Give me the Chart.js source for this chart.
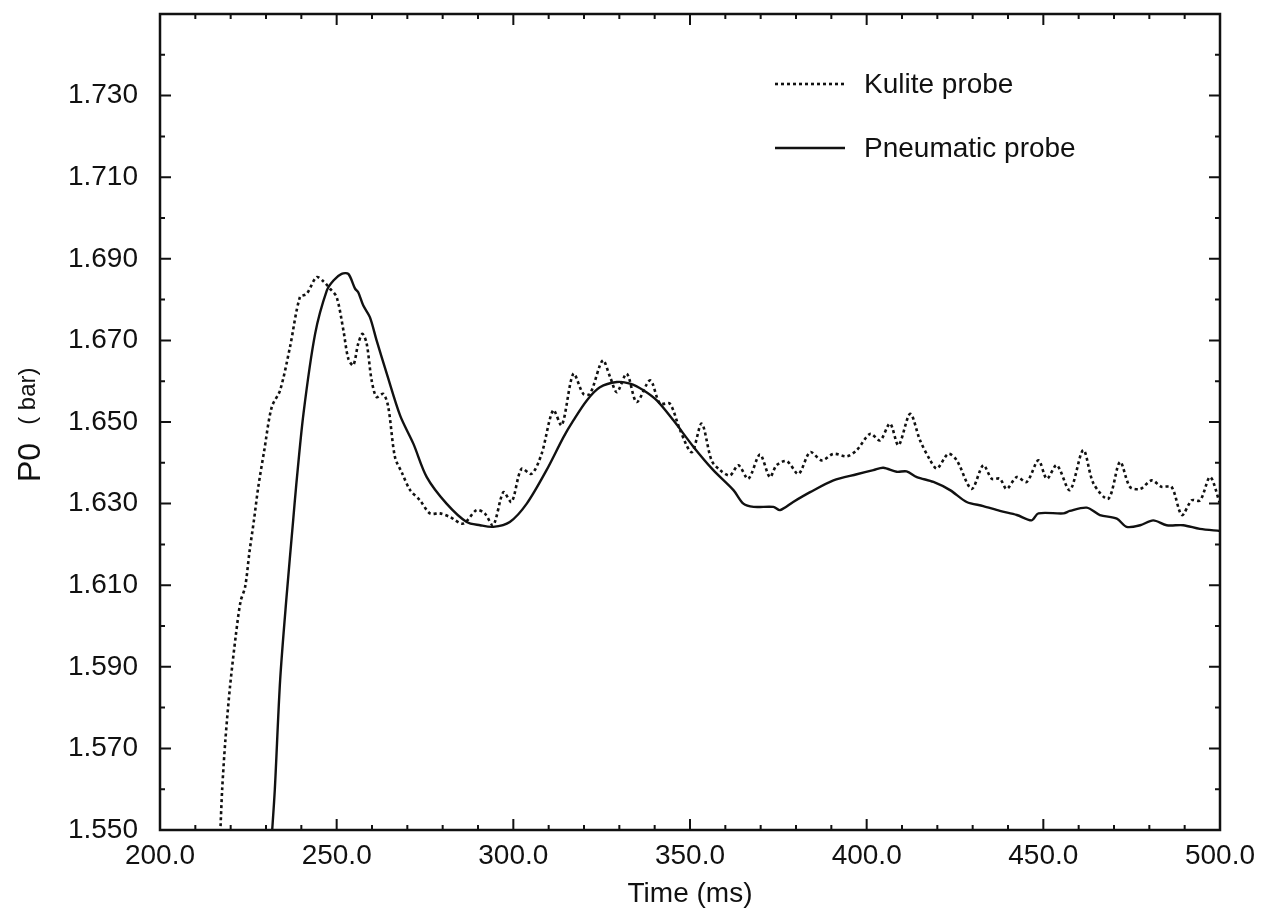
<!DOCTYPE html>
<html>
<head>
<meta charset="utf-8">
<script src="https://cdn.jsdelivr.net/npm/chart.js@4.4.1/dist/chart.umd.min.js"></script>
<style>
  html, body { margin: 0; padding: 0; background: #fff; }
  #wrap { width: 1274px; height: 914px; }
</style>
</head>
<body>
<div id="wrap"><canvas id="grafico" width="1274" height="914"></canvas></div>
<script>
// leitura aproximada da figura
const kuliteTempo = [217.0, 217.6, 218.5, 219.8, 221.5, 222.8, 224.1, 225.3, 226.6, 227.8, 229.5, 231.6, 234.0, 236.8,
  239.6, 241.5, 244.3, 246.2, 248.1, 250.0, 251.9, 253.3, 254.7, 256.1, 257.3, 258.5, 259.9, 261.3, 263.2, 264.6,
  266.5, 268.5, 270.8, 273.6, 276.4, 279.2, 282.1, 285.8, 289.6, 291.9, 294.3, 297.2, 299.5, 302.3, 305.2, 308.0,
  311.3, 313.7, 317.0, 319.8, 321.7, 325.3, 327.4, 329.3, 332.1, 334.9, 338.7, 341.5, 344.3, 347.2, 350.5, 353.3,
  356.1, 358.5, 361.3, 363.7, 366.5, 369.8, 372.6, 374.5, 377.4, 380.7, 384.0, 387.3, 390.6, 394.4, 397.2, 401.0,
  403.8, 406.6, 409.0, 412.3, 415.1, 418.0, 419.9, 423.1, 425.5, 429.7, 433.0, 435.4, 437.7, 439.6, 442.5, 445.3,
  448.6, 451.0, 453.8, 457.5, 461.3, 464.2, 468.4, 471.7, 474.5, 477.4, 480.7, 483.5, 486.3, 489.2, 492.0, 494.4,
  497.2, 500.0];
const kuliteP0 = [1.548, 1.560, 1.572, 1.585, 1.598, 1.606, 1.6096, 1.618, 1.626, 1.634, 1.643, 1.6536, 1.6578, 1.6684,
  1.6806, 1.6814, 1.6855, 1.6845, 1.6827, 1.6806, 1.6725, 1.6655, 1.6639, 1.6692, 1.6716, 1.6692, 1.6602, 1.6561, 1.6569, 1.6537,
  1.6414, 1.6375, 1.6333, 1.6308, 1.6276, 1.6276, 1.6267, 1.6251, 1.6284, 1.6276, 1.6247, 1.6328, 1.6304, 1.6385, 1.6373, 1.6422,
  1.6529, 1.6492, 1.6618, 1.6569, 1.6569, 1.6651, 1.6610, 1.6573, 1.6618, 1.6549, 1.6602, 1.6545, 1.6545, 1.6480, 1.6426, 1.6496,
  1.6406, 1.6382, 1.6369, 1.6394, 1.6361, 1.6420, 1.6365, 1.6394, 1.6404, 1.6373, 1.6426, 1.6406, 1.6422, 1.6416, 1.6431, 1.6471,
  1.6455, 1.6496, 1.6443, 1.6520, 1.6455, 1.6406, 1.6386, 1.6422, 1.6406, 1.6336, 1.6394, 1.6361, 1.6361, 1.6336, 1.6365, 1.6353,
  1.6406, 1.6361, 1.6394, 1.6333, 1.6431, 1.6349, 1.6312, 1.6402, 1.6341, 1.6336, 1.6357, 1.6341, 1.6341, 1.6272, 1.6308, 1.6308,
  1.6365, 1.6300];

const pneumaticoTempo = [231.6, 232.5, 234.0, 235.8, 237.7, 238.5, 240.6, 243.9, 247.2, 249.1, 251.4, 253.3, 255.2, 256.1,
  257.5, 259.4, 261.3, 264.2, 268.0, 271.7, 275.5, 281.1, 286.8, 290.6, 294.3, 299.0, 303.8, 309.4, 314.2, 317.0,
  320.8, 324.5, 329.3, 333.0, 336.8, 340.6, 345.3, 351.0, 356.6, 362.3, 365.1, 368.0, 373.6, 375.5, 379.2, 384.0,
  390.6, 397.2, 401.9, 404.7, 408.5, 411.3, 414.2, 418.9, 423.6, 428.3, 433.0, 437.7, 442.5, 446.7, 448.6, 455.7,
  457.5, 462.3, 466.0, 470.8, 473.6, 477.4, 481.1, 484.9, 489.6, 494.3, 500.0];
const pneumaticoP0 = [1.548, 1.560, 1.5867, 1.607, 1.626, 1.634, 1.652, 1.6716, 1.6822, 1.6847, 1.6863, 1.6863, 1.6827, 1.6818,
  1.6786, 1.6757, 1.6700, 1.6618, 1.6515, 1.6447, 1.6365, 1.6300, 1.6255, 1.6247, 1.6243, 1.6255, 1.6300, 1.6382, 1.6463, 1.6504,
  1.6553, 1.6585, 1.6598, 1.6594, 1.6578, 1.6553, 1.6504, 1.6439, 1.6382, 1.6333, 1.6300, 1.6292, 1.6292, 1.6284, 1.6304, 1.6328,
  1.6357, 1.6372, 1.6382, 1.6388, 1.6378, 1.6379, 1.6365, 1.6353, 1.6333, 1.6304, 1.6294, 1.6282, 1.6272, 1.6259, 1.6276, 1.6276,
  1.6282, 1.6290, 1.6272, 1.6263, 1.6243, 1.6247, 1.6259, 1.6247, 1.6247, 1.6238, 1.6233];

const legendas = ["Kulite probe", "Pneumatic probe"];
const xMin = 200, xMax = 500, xPasso = 50, xMenor = 10;
const yMin = 1.55, yMax = 1.75, yPasso = 0.02, yMenor = 0.01;

const fonte = "'Liberation Sans', Arial, Helvetica, sans-serif";
const preto = "#111";

function pontos(xs, ys) {
    let arr = [];
    for (let i = 0; i < xs.length; i++) arr.push({ x: xs[i], y: ys[i] });
    return arr;
}

// moldura, ticks para dentro, titulo do eixo y e legenda
const molduraPlugin = {
    id: "moldura",
    afterDraw(chart) {
        const ctx = chart.ctx;
        const a = chart.chartArea;
        const sx = chart.scales.x, sy = chart.scales.y;
        ctx.save();
        ctx.strokeStyle = preto;
        ctx.lineWidth = 2.5;
        ctx.strokeRect(a.left, a.top, a.right - a.left, a.bottom - a.top);

        ctx.lineWidth = 2;
        ctx.beginPath();
        for (let v = xMin; v <= xMax + 0.001; v += xMenor) {
            const px = sx.getPixelForValue(v);
            const len = Math.abs(v % xPasso) < 0.001 ? 11 : 5;
            ctx.moveTo(px, a.bottom); ctx.lineTo(px, a.bottom - len);
            ctx.moveTo(px, a.top); ctx.lineTo(px, a.top + len);
        }
        for (let k = 0; k <= Math.round((yMax - yMin) / yMenor); k++) {
            const v = yMin + k * yMenor;
            const py = sy.getPixelForValue(v);
            const len = k % 2 === 0 ? 11 : 5;
            ctx.moveTo(a.left, py); ctx.lineTo(a.left + len, py);
            ctx.moveTo(a.right, py); ctx.lineTo(a.right - len, py);
        }
        ctx.stroke();

        // titulo y: "P0" maior, "( bar)" menor
        ctx.fillStyle = preto;
        ctx.save();
        ctx.rotate(-Math.PI / 2);
        ctx.textAlign = "left";
        ctx.textBaseline = "alphabetic";
        ctx.font = "32px " + fonte;
        ctx.fillText("P0", -482, 40);
        const w = ctx.measureText("P0").width;
        ctx.font = "24px " + fonte;
        ctx.fillText("( bar)", -482 + w + 18, 35);
        ctx.restore();

        // legenda
        const ds = chart.data.datasets;
        const linhasY = [84, 148];
        for (let i = 0; i < ds.length; i++) {
            ctx.beginPath();
            ctx.lineWidth = ds[i].borderWidth;
            ctx.setLineDash(ds[i].borderDash || []);
            ctx.moveTo(775, linhasY[i]);
            ctx.lineTo(845, linhasY[i]);
            ctx.stroke();
            ctx.setLineDash([]);
            ctx.font = "28px " + fonte;
            ctx.textBaseline = "middle";
            ctx.fillText(ds[i].label, 864, linhasY[i] + 1);
        }
        ctx.restore();
    }
};

new Chart(document.getElementById("grafico"), {
    type: "line",
    data: {
        datasets: [{
            label: legendas[0],
            data: pontos(kuliteTempo, kuliteP0),
            borderColor: preto,
            borderWidth: 2.6,
            borderDash: [3, 3],
            pointRadius: 0,
            tension: 0.3,
            fill: false
        }, {
            label: legendas[1],
            data: pontos(pneumaticoTempo, pneumaticoP0),
            borderColor: preto,
            borderWidth: 2.4,
            pointRadius: 0,
            tension: 0.3,
            fill: false
        }]
    },
    options: {
        responsive: false,
        animation: false,
        layout: { padding: { top: 14, right: 54, left: 0, bottom: 0 } },
        plugins: {
            legend: { display: false },
            tooltip: { enabled: false }
        },
        scales: {
            x: {
                type: "linear",
                min: xMin,
                max: xMax,
                afterFit: s => { s.height = 84; s.paddingLeft = 0; s.paddingRight = 0; },
                afterBuildTicks: s => {
                    s.ticks = [];
                    for (let v = xMin; v <= xMax; v += xPasso) s.ticks.push({ value: v });
                },
                grid: { display: false, drawTicks: false },
                border: { display: false },
                ticks: {
                    color: preto,
                    font: { family: fonte, size: 28 },
                    padding: 9,
                    maxRotation: 0,
                    autoSkip: false,
                    callback: v => v.toFixed(1)
                },
                title: {
                    display: true,
                    text: "Time (ms)",
                    color: preto,
                    font: { family: fonte, size: 28 },
                    padding: { top: 0, bottom: 3 }
                }
            },
            y: {
                min: yMin,
                max: yMax,
                afterFit: s => { s.width = 160; s.paddingTop = 0; s.paddingBottom = 0; },
                afterBuildTicks: s => {
                    s.ticks = [];
                    for (let k = 0; k <= Math.round((yMax - yMin) / yPasso); k++) s.ticks.push({ value: yMin + k * yPasso });
                },
                grid: { display: false, drawTicks: false },
                border: { display: false },
                ticks: {
                    color: preto,
                    font: { family: fonte, size: 28 },
                    padding: 22,
                    autoSkip: false,
                    callback: v => (v > 1.745 ? "" : v.toFixed(3))
                }
            }
        }
    },
    plugins: [molduraPlugin]
});
</script>
</body>
</html>
